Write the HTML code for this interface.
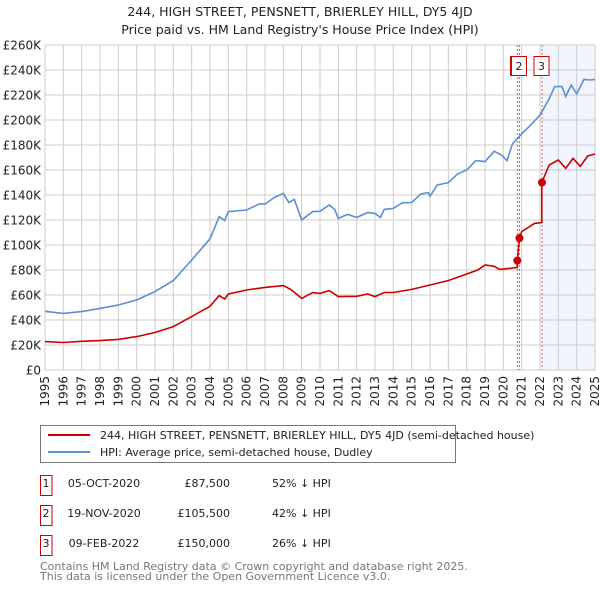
<!DOCTYPE html>
<html><head><meta charset="utf-8"><style>
body{margin:0;background:#fff;font-family:"Liberation Sans","DejaVu Sans",sans-serif;}
svg text{font-family:"DejaVu Sans","Liberation Sans",sans-serif;}
</style></head><body>
<svg id="chart" width="600" height="590" viewBox="0 0 600 590">
<text x="300" y="16" text-anchor="middle" font-size="12.5" fill="#222">244, HIGH STREET, PENSNETT, BRIERLEY HILL, DY5 4JD</text>
<text x="300" y="34" text-anchor="middle" font-size="12.5" fill="#222">Price paid vs. HM Land Registry's House Price Index (HPI)</text>
<g id="plot"></g>
<g>
<rect x="40.5" y="425.5" width="415" height="37" fill="#fff" stroke="#777"/>
<line x1="48" y1="435" x2="90" y2="435" stroke="#cc0000" stroke-width="2"/>
<text x="100" y="439" font-size="11" fill="#222">244, HIGH STREET, PENSNETT, BRIERLEY HILL, DY5 4JD (semi-detached house)</text>
<line x1="48" y1="452" x2="90" y2="452" stroke="#5b8fd0" stroke-width="2"/>
<text x="100" y="456" font-size="11" fill="#222">HPI: Average price, semi-detached house, Dudley</text>
</g>
<g id="table" font-size="11" fill="#222"></g>
<text x="40" y="570" font-size="11" fill="#777">Contains HM Land Registry data © Crown copyright and database right 2025.</text>
<text x="40" y="580" font-size="11" fill="#777">This data is licensed under the Open Government Licence v3.0.</text>
</svg>
<script>
const hpiYears=[1995,1996,1997,1998,1999,2000,2001,2002,2003,2004,2004.5,2004.8,2005,2006,2006.7,2007,2007.5,2008,2008.3,2008.6,2009,2009.6,2010,2010.5,2010.8,2011,2011.5,2012,2012.6,2013,2013.3,2013.5,2014,2014.5,2015,2015.5,2015.9,2016,2016.4,2017,2017.5,2018,2018.5,2019,2019.5,2019.9,2020.2,2020.5,2021,2021.5,2022,2022.5,2022.8,2023.2,2023.4,2023.7,2024,2024.4,2024.7,2025];
const hpiValues=[47,45.3,46.7,49.3,52,56,62.7,71.5,88,105,122.7,119.5,126.7,128,133,132.8,137.9,141.3,134,136.5,120,126.7,127,132,128.5,121.3,124.5,122,126,125.3,122,128.5,129.3,133.8,134,140.8,141.9,139,148,149.9,156.8,160,167.5,166.7,175,172,167.5,181,189,196,204,217,226.7,226.7,218.7,228,221,232.5,232,232.5];
const priceYears=[1995,1996,1997,1998,1999,2000,2001,2002,2003,2004,2004.5,2004.8,2005,2006,2007,2008,2008.4,2009,2009.6,2010,2010.5,2011,2012,2012.6,2013,2013.5,2014,2015,2016,2017,2018,2018.6,2019,2019.5,2019.8,2020.76,2020.76,2020.88,2021,2021.7,2022.1,2022.1,2022.5,2023,2023.4,2023.8,2024.2,2024.6,2025];
const priceValues=[22.7,22,23,23.5,24.5,26.7,30,34.7,42.7,51,59.5,56.8,60.8,64,66.1,67.5,64.5,57.3,61.9,61.3,63.5,58.7,59,60.8,58.7,62,62,64.5,68,71.5,76.8,80,84,83,80.5,82,87.5,105.5,110.7,117.3,118,150,164,168,161.3,169.3,163,171.2,172.8];
const saleLabels=["1","2","3"];
const saleYears=[2020.76,2020.88,2022.11];
const saleValues=[87.5,105.5,150];
const saleDates=["05-OCT-2020","19-NOV-2020","09-FEB-2022"];
const salePrices=["£87,500","£105,500","£150,000"];
const saleDiffs=["52% ↓ HPI","42% ↓ HPI","26% ↓ HPI"];
const yTicks=[0,20,40,60,80,100,120,140,160,180,200,220,240,260];
const xTicks=[1995,1996,1997,1998,1999,2000,2001,2002,2003,2004,2005,2006,2007,2008,2009,2010,2011,2012,2013,2014,2015,2016,2017,2018,2019,2020,2021,2022,2023,2024,2025];

const NS="http://www.w3.org/2000/svg";
const X0=45,X1=595,Y0=370,Y1=45;
const xs=y=>X0+(y-1995)*(X1-X0)/30;
const ys=v=>Y0-v*(Y0-Y1)/260;
const plot=document.getElementById('plot');
function mk(tag,attrs,parent){const e=document.createElementNS(NS,tag);for(const k in attrs)e.setAttribute(k,attrs[k]);(parent||plot).appendChild(e);return e;}

let r=mk('rect',{x:X0,y:Y1,width:X1-X0,height:Y0-Y1,fill:'#fff'});


let sh=mk('rect',{x:xs(saleYears[2]),y:Y1,width:X1-xs(saleYears[2]),height:Y0-Y1,fill:'#f2f5fd'});


let sh2=mk('rect',{x:xs(saleYears[0]),y:Y1,width:xs(saleYears[1])-xs(saleYears[0]),height:Y0-Y1,fill:'#f2f5fd'});



yTicks.forEach(v=>{
  const g=mk('line',{x1:X0,x2:X1,y1:ys(v),y2:ys(v),stroke:'#cccccc','stroke-width':1});
  
  
  const t=mk('text',{x:X0-4,y:ys(v)+4.5,'text-anchor':'end','font-size':12,fill:'#222'});
  t.textContent=v===0?'£0':'£'+v+'K';
  
  
});
xTicks.forEach(y=>{
  const g=mk('line',{x1:xs(y),x2:xs(y),y1:Y1,y2:Y0,stroke:'#cccccc','stroke-width':1});
  
  
  const t=mk('text',{x:0,y:0,'text-anchor':'end','font-size':12,fill:'#222',transform:`translate(${xs(y)+4},${Y0+6}) rotate(-90)`});
  t.textContent=y;
  
  
});
let bx=mk('rect',{x:X0,y:Y1,width:X1-X0,height:Y0-Y1,fill:'none',stroke:'#cccccc'});



saleYears.forEach((y,i)=>{
  const l=mk('line',{x1:xs(y),x2:xs(y),y1:Y1,y2:Y0,stroke:'#e06060','stroke-width':1,'stroke-dasharray':'2,2'});
  
  
});

function pathOf(xa,va){return xa.map((y,i)=>(i?'L':'M')+xs(y).toFixed(1)+','+ys(va[i]).toFixed(1)).join('');}
let hp=mk('path',{d:pathOf(hpiYears,hpiValues),fill:'none',stroke:'#5b8fd0','stroke-width':1.6});


let pp=mk('path',{d:pathOf(priceYears,priceValues),fill:'none',stroke:'#cc0000','stroke-width':1.6});



saleYears.forEach((y,i)=>{
  const c=mk('circle',{cx:xs(y),cy:ys(saleValues[i]),r:4,fill:'#cc0000'});
  
  
});
const boxX=[xs(saleYears[0])-8,xs(saleYears[1])-8,xs(saleYears[2])-8];
[0,1,2].forEach(i=>{
  const g=mk('g',{});
  
  
  const bxX=i===0?boxX[1]-1:boxX[i];
  mk('rect',{x:bxX,y:56.5,width:15,height:19,fill:'#fff',stroke:'#cc0000'},g);
  const t=mk('text',{x:bxX+7.5,y:70,'text-anchor':'middle','font-size':11,fill:'#222'},g);
  t.textContent=saleLabels[i];
});

const tbl=document.getElementById('table');
saleLabels.forEach((s,i)=>{
  const y=483+i*30;
  const g=document.createElementNS(NS,'g');tbl.appendChild(g);
  
  
  mk('rect',{x:40.5,y:y-7.5,width:11.5,height:20,fill:'#fff',stroke:'#cc0000'},g);
  const tt=[[46,s,'middle'],[104,saleDates[i],'middle'],[230,salePrices[i],'end'],[272,saleDiffs[i],'start']];
  tt.forEach(a=>{const t=mk('text',{x:a[0],y:y+4,'text-anchor':a[2],'font-size':11,fill:'#222'},g);t.textContent=a[1];});
});
</script>
</body></html>
